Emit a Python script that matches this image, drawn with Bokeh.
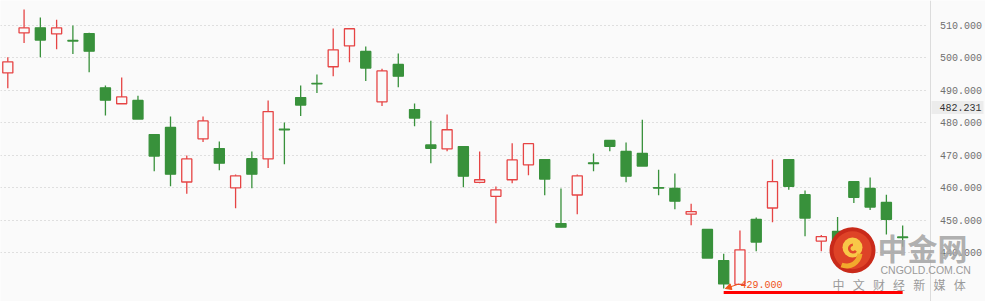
from bokeh.plotting import figure
from bokeh.models import (Range1d, Label, Arrow, NormalHead, FixedTicker,
                          PrintfTickFormatter, LinearAxis, BoxAnnotation)
from bokeh.embed import file_html
from bokeh.resources import INLINE

# ---------------- data ----------------
opens  = [495.4, 507.7, 509.3, 507.4, 505.4, 507.5, 490.8, 485.9, 486.9, 476.4,
          478.6, 461.8, 475.1, 472.1, 460.0, 469.0, 468.9, 478.1, 487.8, 492.2,
          497.3, 503.7, 502.0, 486.5, 498.0, 484.1, 473.2, 472.0, 472.7, 461.7,
          457.4, 462.5, 467.1, 468.7, 449.0, 457.8, 467.7, 474.6, 471.2, 470.6,
          460.1, 459.8, 451.9, 447.2, 437.6, 430.3, 450.3, 453.8, 468.7, 457.9,
          443.6, 446.6, 461.9, 459.8, 455.5, 444.9]
highs  = [500.2, 514.9, 512.5, 511.8, 510.0, 507.8, 491.5, 494.0, 488.4, 476.6,
          482.0, 470.0, 482.0, 474.3, 464.1, 471.2, 486.9, 480.1, 491.5, 494.9,
          509.1, 509.0, 503.5, 496.7, 501.4, 486.0, 480.7, 482.6, 472.7, 471.2,
          460.4, 473.7, 473.6, 468.7, 459.8, 464.1, 470.6, 474.6, 474.0, 481.0,
          465.6, 464.4, 455.1, 447.2, 439.7, 446.9, 450.9, 468.7, 468.7, 459.2,
          445.5, 451.0, 461.9, 463.2, 457.9, 448.4]
lows   = [490.7, 504.6, 500.2, 502.7, 501.2, 495.6, 482.3, 485.9, 481.2, 465.1,
          460.5, 458.2, 474.1, 465.4, 453.7, 459.9, 466.1, 467.3, 482.1, 489.2,
          494.4, 498.7, 492.9, 485.2, 491.0, 479.0, 467.6, 471.3, 460.2, 461.4,
          449.1, 461.4, 463.9, 457.7, 447.9, 451.9, 465.1, 471.3, 461.7, 466.7,
          457.7, 453.4, 448.5, 438.4, 429.0, 430.2, 440.5, 449.4, 459.4, 445.1,
          440.5, 438.5, 455.3, 453.2, 445.6, 441.9]
closes = [498.8, 509.3, 505.5, 509.3, 505.2, 502.1, 487.0, 488.0, 481.2, 469.8,
          464.2, 468.9, 480.6, 467.6, 463.7, 464.2, 483.5, 477.9, 485.5, 492.0,
          502.5, 509.0, 496.9, 496.0, 494.4, 481.5, 472.2, 477.9, 463.6, 462.5,
          459.4, 468.6, 473.6, 462.7, 447.9, 463.7, 467.5, 472.8, 463.6, 466.7,
          459.9, 455.9, 452.7, 438.4, 430.4, 440.9, 443.3, 461.9, 460.5, 450.7,
          445.0, 441.0, 457.1, 454.1, 450.3, 444.7]
y_ticks = [440, 450, 460, 470, 480, 490, 500, 510]
last_price_text = "482.231"
low_text = "429.000"
logo_title = "中金网"
logo_site = "CNGOLD.COM.CN"
logo_slogan = ["中", "文", "财", "经", "新", "媒", "体"]

# ---------------- styling ----------------
RED = "#e64444"
GREEN = "#38913b"
BG = "#fafafa"
ORANGE = "#f05418"

W, H = 985, 301
AXIS_PX = 929.5
PX_PER_UNIT = 16.27
X0 = -0.449
X1 = X0 + W / PX_PER_UNIT
Y0, Y1 = 425.0, 517.7

def px_x(px):
    return X0 + px / W * (X1 - X0)

def px_y(py):
    return Y1 - py / H * (Y1 - Y0)

idx = list(range(len(opens)))
is_up = [c > o for o, c in zip(opens, closes)]
colors = [RED if u else GREEN for u in is_up]
fills = [BG if u else GREEN for u in is_up]
tops = [max(o, c) for o, c in zip(opens, closes)]
bots = [min(o, c) for o, c in zip(opens, closes)]

p = figure(width=W, height=H, output_backend="svg", toolbar_location=None,
           x_range=Range1d(X0, X1), y_range=Range1d(Y0, Y1),
           x_axis_location=None, y_axis_location=None,
           min_border_left=0, min_border_top=0, min_border_bottom=0,
           min_border_right=0,
           background_fill_color=BG, border_fill_color=BG,
           outline_line_color=None)

ticker = FixedTicker(ticks=y_ticks)
ax = LinearAxis(ticker=ticker, formatter=PrintfTickFormatter(format="%.3f"),
                fixed_location=px_x(AXIS_PX))
ax.major_tick_out = 0
ax.major_tick_in = 0
ax.minor_tick_out = 0
ax.minor_tick_in = 0
ax.axis_line_color = "#dcdcdc"
ax.major_label_standoff = 10
ax.major_label_text_font = "Liberation Mono"
ax.major_label_text_font_size = "10px"
ax.major_label_text_color = "#707070"
p.add_layout(ax, "right")

p.xgrid.visible = False
p.ygrid.ticker = ticker
p.ygrid.grid_line_color = "#c4c4c4"
p.ygrid.grid_line_dash = "1 3"
p.ygrid.grid_line_width = 1

# plain band behind the axis labels (no grid there)
p.add_layout(BoxAnnotation(left=px_x(AXIS_PX - 2), fill_color=BG, fill_alpha=1.0,
                           line_color=None, level="glyph"))

# candles
p.segment(x0=idx, y0=lows, x1=idx, y1=highs, line_color=colors, line_width=1.3)
p.vbar(x=idx, width=0.62, top=tops, bottom=bots, fill_color=fills,
       line_color=colors, line_width=1.3)

# low marker
low_val = min(lows)
low_i = lows.index(low_val)
last_i = idx[-1]
p.line(x=[low_i, last_i], y=[low_val - 1.23, low_val - 1.23], line_color="#ff0000",
       line_width=3)
p.add_layout(Arrow(end=NormalHead(size=6, fill_color=ORANGE, line_color=ORANGE),
                   x_start=low_i + 0.95, y_start=low_val + 1.4,
                   x_end=low_i + 0.1, y_end=low_val, line_color=ORANGE, line_width=1))
p.add_layout(Label(x=low_i + 1.03, y=low_val + 1.2, text=low_text,
                   text_font="Liberation Mono", text_font_size="10px",
                   text_color=ORANGE, text_baseline="alphabetic", text_align="left"))

# last price label on the axis
p.add_layout(Label(x=931, y=H - 107, x_units="screen", y_units="screen",
                   text=last_price_text, text_font="Liberation Mono",
                   text_font_size="10px", text_color="#333333",
                   text_baseline="middle", text_align="left",
                   background_fill_color="#ececec", padding=(8, 2, 3, 3)))

# watermark logo
cx, cy = px_x(852), px_y(249.7)
p.scatter(x=[cx], y=[cy], marker="circle", size=46, fill_color="#c92a1a",
          line_color=None)
p.scatter(x=[cx], y=[cy], marker="circle", size=38, fill_color="#e2482a",
          line_color=None, fill_alpha=0.85)
# swirl: cloud head + tail
p.scatter(x=[px_x(852)], y=[px_y(247)], marker="circle", size=20,
          fill_color="#f8c848", line_color=None)
p.annular_wedge(x=[px_x(852.5)], y=[px_y(248)], inner_radius=2.5, outer_radius=5,
                inner_radius_units="screen", outer_radius_units="screen",
                start_angle=1.6, end_angle=5.6, fill_color="#e2482a", line_color=None)
p.annular_wedge(x=[px_x(846)], y=[px_y(252)], inner_radius=11, outer_radius=16,
                inner_radius_units="screen", outer_radius_units="screen",
                start_angle=-1.95, end_angle=-0.1, fill_color="#f2a92c", line_color=None)

p.add_layout(Label(x=877, y=H - 246, x_units="screen", y_units="screen",
                   text=logo_title, text_font="Noto Sans CJK SC", text_font_style="bold",
                   text_font_size="30px", text_color="#a6a6a6", text_alpha=0.9,
                   text_baseline="middle", text_align="left"))
p.add_layout(Label(x=880, y=H - 269, x_units="screen", y_units="screen",
                   text=logo_site, text_font="Liberation Sans",
                   text_font_size="10.5px", text_color="#9a9a9a",
                   text_baseline="middle", text_align="left"))
for k, ch in enumerate(logo_slogan):
    p.add_layout(Label(x=832 + 20.2 * k, y=H - 284, x_units="screen", y_units="screen",
                       text=ch, text_font="Noto Sans CJK SC", text_font_size="12px",
                       text_color="#9a9a9a", text_baseline="middle", text_align="left"))

open("out.html", "w").write(file_html(p, INLINE))
